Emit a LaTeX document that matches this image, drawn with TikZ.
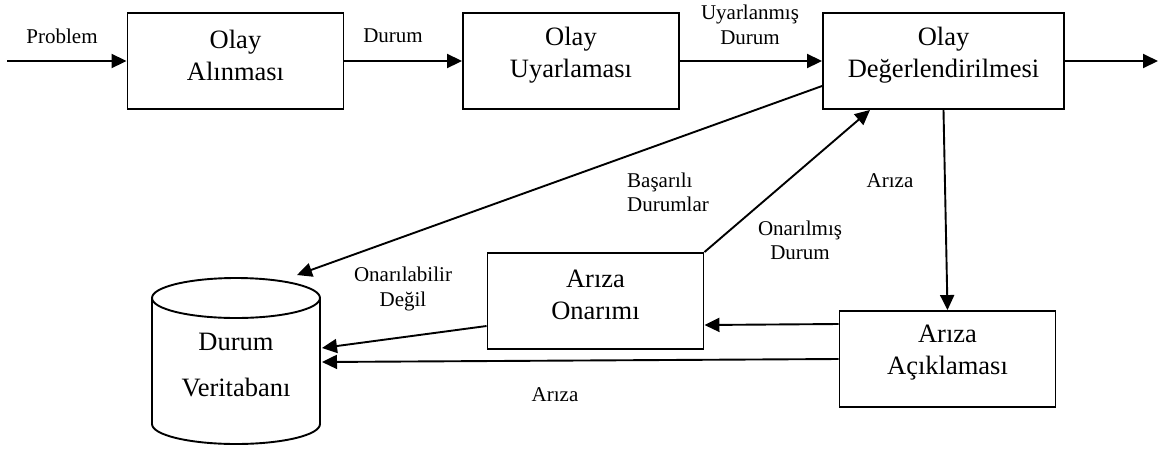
\documentclass[tikz,border=0pt]{standalone}
\usepackage{fontspec}
\setmainfont{Liberation Serif}
\usetikzlibrary{arrows.meta,calc}
\begin{document}
\begin{tikzpicture}[x=1pt,y=1pt,
  stage/.style={draw, line width=1.9pt, minimum width=#1, minimum height=96pt, inner sep=0pt},
  stagetext/.style={align=center, font=\fontsize{26.5}{32}\selectfont, inner sep=0pt},
  flowlabel/.style={align=center, font=\fontsize{21}{24.5}\selectfont, inner sep=0pt},
  flow/.style={line width=1.9pt, -{Triangle[length=15pt,width=14pt]}}]
\useasboundingbox (0,0) rectangle (1160,-451);

% processing stages
\node[stage=216pt] (alim)  at (235.5,-61) {};
\node[stage=216pt] (uyar)  at (571,-61)   {};
\node[stage=241pt] (deger) at (943.5,-61) {};
\node[stage=216pt] (onar)  at (595.5,-301){};
\node[stage=216pt] (acik)  at (947.5,-359){};

\node[stagetext] (alim-t)  at ([yshift=6pt]alim.center)  {Olay\\Alınması};
\node[stagetext] (uyar-t)  at ([yshift=6pt]uyar.center)  {Olay\\Uyarlaması};
\node[stagetext] (deger-t) at ([yshift=6pt]deger.center) {Olay\\Değerlendirilmesi};
\node[stagetext] (onar-t)  at ([yshift=6pt]onar.center)  {Arıza\\Onarımı};
\node[stagetext] (acik-t)  at ([yshift=6pt]acik.center)  {Arıza\\Açıklaması};

% case database cylinder
\draw[line width=1.9pt] (236,-298) ellipse [x radius=84, y radius=20];
\draw[line width=1.9pt] (152,-298) -- (152,-424) arc [start angle=180, end angle=360, x radius=84, y radius=20] -- (320,-298);
\node[stagetext, font=\fontsize{26.5}{46}\selectfont] (db-t) at (236,-365) {Durum\\Veritabanı};
\coordinate (db-top) at (297,-275);
\coordinate (db-r1)  at (322,-348);
\coordinate (db-r2)  at (322,-362);

% open ends
\coordinate (in)  at (7,-61);
\coordinate (out) at (1158,-61);

% connectors
\draw[flow] (in) -- (alim.west);
\draw[flow] (alim.east) -- (uyar.west);
\draw[flow] (uyar.east) -- (deger.west);
\draw[flow] (deger.east) -- (out);
\draw[flow] ([yshift=-25pt]deger.west) -- (db-top);
\draw[flow] (deger.south) -- (acik.north);
\draw[flow] ([yshift=35pt]acik.west) -- ([yshift=-24pt]onar.east);
\draw[flow] (acik.west) -- (db-r2);
\draw[flow] ([yshift=-25pt]onar.west) -- (db-r1);
\draw[flow] (onar.north east) -- ([xshift=-73.5pt]deger.south);

% connector labels
\node[flowlabel] (l-prob)  at (62,-36)    {Problem};
\node[flowlabel] (l-dur)   at (393,-36)   {Durum};
\node[flowlabel] (l-uyar)  at (750,-25)   {Uyarlanmış\\Durum};
\node[flowlabel, align=left, anchor=west] (l-bas) at (627,-192.5) {Başarılı\\Durumlar};
\node[flowlabel] (l-ariza1) at (890,-181) {Arıza};
\node[flowlabel] (l-onm)   at (800,-240.5) {Onarılmış\\Durum};
\node[flowlabel] (l-onb)   at (403,-289) {Onarılabilir\\Değil};
\node[flowlabel] (l-ariza2) at (555,-395) {Arıza};
\end{tikzpicture}
\end{document}
